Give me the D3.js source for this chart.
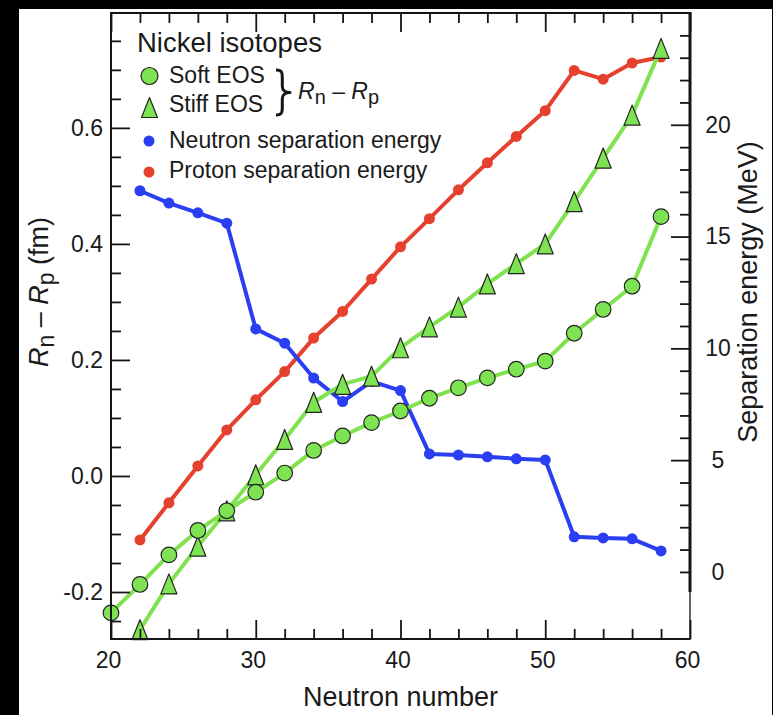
<!DOCTYPE html>
<html>
<head>
<meta charset="utf-8">
<script src="https://cdn.jsdelivr.net/npm/d3@7"></script>
<style>
  html, body { margin: 0; padding: 0; background: #000; }
  svg { display: block; }
  text { font-family: "Liberation Sans", Arial, Helvetica, sans-serif; fill: #1a1a1a; }
</style>
</head>
<body>
<svg id="chart" width="773" height="715"></svg>
<script>
// Neutron numbers of the nickel isotopes
const neutronNumberSoft = [20, 22, 24, 26, 28, 30, 32, 34, 36, 38, 40, 42, 44, 46, 48, 50, 52, 54, 56, 58];
const neutronNumber = [22, 24, 26, 28, 30, 32, 34, 36, 38, 40, 42, 44, 46, 48, 50, 52, 54, 56, 58];

// Neutron skin thickness R_n - R_p (fm)
const softEOS = [-0.236, -0.187, -0.136, -0.094, -0.060, -0.028, 0.005, 0.044, 0.069, 0.092,
                 0.112, 0.134, 0.152, 0.169, 0.184, 0.198, 0.246, 0.287, 0.327, 0.447];
const stiffEOS = [-0.265, -0.186, -0.121, -0.060, 0.002, 0.063, 0.127, 0.158, 0.172, 0.221,
                  0.257, 0.291, 0.331, 0.366, 0.400, 0.473, 0.548, 0.622, 0.737];

// Separation energies (MeV)
const neutronSep = [17.05, 16.5, 16.06, 15.6, 10.87, 10.23, 8.67, 7.62, 8.52, 8.11,
                    5.28, 5.23, 5.15, 5.06, 5.01, 1.57, 1.52, 1.48, 0.94];
const protonSep = [1.43, 3.09, 4.74, 6.35, 7.70, 8.96, 10.46, 11.65, 13.1, 14.54,
                   15.8, 17.09, 18.3, 19.48, 20.63, 22.43, 22.04, 22.76, 23.03];

// Tick values
const xTicksMajor = [20, 30, 40, 50, 60];
const xTicksMinor = [22, 24, 26, 28, 32, 34, 36, 38, 42, 44, 46, 48, 52, 54, 56, 58];
const leftTicksMajor = [-0.2, 0.0, 0.2, 0.4, 0.6];
const leftTicksMinor = [-0.25, -0.15, -0.1, -0.05, 0.05, 0.1, 0.15, 0.25, 0.3, 0.35, 0.45, 0.5, 0.55, 0.65, 0.7, 0.75];
const rightTickLabels = [0, 5, 10, 15, 20];
const rightTicksMajor = [5, 10, 15, 20];
const rightTicksMinor = [0, 1, 2, 3, 4, 6, 7, 8, 9, 11, 12, 13, 14, 16, 17, 18, 19, 21, 22, 23, 24];

const W = 773, H = 715;
const plot = { left: 111, right: 690, top: 13, bottom: 639 };

const GREEN_LINE = "#80e24f";
const GREEN_FILL = "#7ee352";
const BLUE = "#2a3ef2";
const RED = "#e6402e";
const INK = "#151515";

const svg = d3.select("#chart");
svg.append("rect").attr("width", W).attr("height", H).attr("fill", "#000");
svg.append("rect").attr("x", 19).attr("y", 9).attr("width", 753).attr("height", H - 9).attr("fill", "#fff");

const x = d3.scaleLinear().domain([20, 60]).range([plot.left, plot.right]);
const yR = d3.scaleLinear().domain([-0.281, 0.798]).range([plot.bottom, plot.top]);
const yS = d3.scaleLinear().domain([-3, 25]).range([plot.bottom, plot.top]);

const triPath = "M0,-10L8,10L-8,10Z";

// ---- separation energy series ----
function sepSeries(values, color) {
  const pts = neutronNumber.map((n, i) => [n, values[i]]);
  const g = svg.append("g");
  g.append("path")
    .attr("d", d3.line().x(d => x(d[0])).y(d => yS(d[1]))(pts))
    .attr("fill", "none").attr("stroke", color).attr("stroke-width", 4)
    .attr("stroke-linejoin", "round");
  g.selectAll("circle").data(pts).join("circle")
    .attr("cx", d => x(d[0])).attr("cy", d => yS(d[1])).attr("r", 5.5)
    .attr("fill", color);
}
sepSeries(protonSep, RED);
sepSeries(neutronSep, BLUE);

// ---- R_n - R_p series ----
const stiffPts = neutronNumber.map((n, i) => [n, stiffEOS[i]]);
const softPts = neutronNumberSoft.map((n, i) => [n, softEOS[i]]);
const skinLine = d3.line().x(d => x(d[0])).y(d => yR(d[1]));

const gStiff = svg.append("g");
gStiff.append("path").attr("d", skinLine(stiffPts))
  .attr("fill", "none").attr("stroke", GREEN_LINE).attr("stroke-width", 4).attr("stroke-linejoin", "round");
gStiff.selectAll("path.tri").data(stiffPts).join("path").attr("class", "tri")
  .attr("d", triPath)
  .attr("transform", d => `translate(${x(d[0])},${yR(d[1])})`)
  .attr("fill", GREEN_FILL).attr("stroke", "#222").attr("stroke-width", 1.2).attr("stroke-linejoin", "round");

const gSoft = svg.append("g");
gSoft.append("path").attr("d", skinLine(softPts))
  .attr("fill", "none").attr("stroke", GREEN_LINE).attr("stroke-width", 4).attr("stroke-linejoin", "round");
gSoft.selectAll("circle").data(softPts).join("circle")
  .attr("cx", d => x(d[0])).attr("cy", d => yR(d[1])).attr("r", 7.8)
  .attr("fill", GREEN_FILL).attr("stroke", "#222").attr("stroke-width", 1.2);

// ---- axes ----
function styleAxis(g) {
  g.select(".domain").remove();
  g.selectAll(".tick line").attr("stroke", INK).attr("stroke-width", 1.8);
  g.selectAll(".tick text").attr("fill", INK).style("font-size", "23px")
    .style("font-family", '"Liberation Sans", Arial, Helvetica, sans-serif');
}
function addAxis(transform, axis) {
  const g = svg.append("g").attr("transform", transform).call(axis);
  styleAxis(g);
  return g;
}
const fmt1 = d => d.toFixed(1);

// bottom
addAxis(`translate(0,${plot.bottom})`, d3.axisBottom(x).tickValues(xTicksMinor).tickSize(-10).tickFormat(""));
addAxis(`translate(0,${plot.bottom})`, d3.axisBottom(x).tickValues(xTicksMajor).tickSize(-19).tickPadding(12.5).tickFormat(d3.format("d")))
  .selectAll(".tick text").attr("dx", -3);
// top
addAxis(`translate(0,${plot.top})`, d3.axisTop(x).tickValues(xTicksMinor).tickSize(-10).tickFormat(""));
addAxis(`translate(0,${plot.top})`, d3.axisTop(x).tickValues(xTicksMajor).tickSize(-19).tickFormat(""));
// left
addAxis(`translate(${plot.left},0)`, d3.axisLeft(yR).tickValues(leftTicksMinor).tickSize(-10).tickFormat(""));
addAxis(`translate(${plot.left},0)`, d3.axisLeft(yR).tickValues(leftTicksMajor).tickSize(-19).tickPadding(8).tickFormat(fmt1));
// right
addAxis(`translate(${plot.right},0)`, d3.axisRight(yS).tickValues(rightTicksMinor).tickSize(-10).tickFormat(""));
addAxis(`translate(${plot.right},0)`, d3.axisRight(yS).tickValues(rightTicksMajor).tickSize(-19).tickFormat(""));
addAxis(`translate(${plot.right},0)`, d3.axisRight(yS).tickValues(rightTickLabels).tickSize(0).tickFormat(d3.format("d")))
  .selectAll(".tick text").attr("text-anchor", "middle").attr("x", 28);

// frame
const frame = svg.append("g").attr("stroke", INK).attr("fill", "none");
frame.append("line").attr("x1", plot.left).attr("x2", plot.right).attr("y1", plot.top).attr("y2", plot.top).attr("stroke-width", 2);
frame.append("line").attr("x1", plot.left).attr("x2", plot.right).attr("y1", plot.bottom).attr("y2", plot.bottom).attr("stroke-width", 2);
frame.append("line").attr("x1", plot.left).attr("x2", plot.left).attr("y1", plot.top - 1).attr("y2", plot.bottom + 1).attr("stroke-width", 2);
frame.append("line").attr("x1", plot.right).attr("x2", plot.right).attr("y1", plot.top - 1).attr("y2", yS(-0.9)).attr("stroke-width", 3);
frame.append("line").attr("x1", plot.right).attr("x2", plot.right).attr("y1", yS(-0.9)).attr("y2", plot.bottom + 1).attr("stroke-width", 1.3);

// ---- axis titles ----
svg.append("text").attr("x", (plot.left + plot.right) / 2).attr("y", 706)
  .attr("text-anchor", "middle").style("font-size", "27px").text("Neutron number");

svg.append("text").attr("transform", "translate(757,292) rotate(-90)")
  .attr("text-anchor", "middle").style("font-size", "27px").text("Separation energy (MeV)");

function skinLabel(sel, sub, shift) {
  sel.append("tspan").style("font-style", "italic").text("R");
  sel.append("tspan").style("font-size", sub + "px").attr("dy", shift).text("n");
  sel.append("tspan").attr("dy", -shift).text(" \u2013 ");
  sel.append("tspan").style("font-style", "italic").text("R");
  sel.append("tspan").style("font-size", sub + "px").attr("dy", shift).text("p");
}
const leftTitle = svg.append("text").attr("transform", "translate(48,292) rotate(-90)")
  .attr("text-anchor", "middle").style("font-size", "27px");
skinLabel(leftTitle, 23, 6);
leftTitle.append("tspan").attr("dy", -6).text(" (fm)");

// ---- legend ----
const lg = svg.append("g");
lg.append("text").attr("x", 137).attr("y", 52).style("font-size", "27.5px").text("Nickel isotopes");

lg.append("circle").attr("cx", 149.5).attr("cy", 76).attr("r", 8.5)
  .attr("fill", GREEN_FILL).attr("stroke", "#222").attr("stroke-width", 1.2);
lg.append("text").attr("x", 169).attr("y", 82.5).style("font-size", "23px").text("Soft EOS");

lg.append("path").attr("d", triPath).attr("transform", "translate(149.5,107.5)")
  .attr("fill", GREEN_FILL).attr("stroke", "#222").attr("stroke-width", 1.2).attr("stroke-linejoin", "round");
lg.append("text").attr("x", 169).attr("y", 111.7).style("font-size", "23px").text("Stiff EOS");

// curly brace grouping the two EOS entries
(function () {
  const x0 = 276, y0 = 70, y1 = 115, w = 14;
  const xm = x0 + w * 0.45, ym = (y0 + y1) / 2;
  const p = d3.path();
  p.moveTo(x0, y0);
  p.bezierCurveTo(xm, y0, xm, y0 + 3, xm, y0 + 8);
  p.lineTo(xm, ym - 6);
  p.bezierCurveTo(xm, ym - 2, x0 + w * 0.7, ym, x0 + w, ym);
  p.bezierCurveTo(x0 + w * 0.7, ym, xm, ym + 2, xm, ym + 6);
  p.lineTo(xm, y1 - 8);
  p.bezierCurveTo(xm, y1 - 3, xm, y1, x0, y1);
  lg.append("path").attr("d", p.toString()).attr("fill", "none")
    .attr("stroke", INK).attr("stroke-width", 3).attr("stroke-linejoin", "round");
})();
const braceLabel = lg.append("text").attr("x", 298).attr("y", 98.5).style("font-size", "23px");
skinLabel(braceLabel, 20, 5);

lg.append("circle").attr("cx", 149).attr("cy", 141).attr("r", 5.5).attr("fill", BLUE);
lg.append("text").attr("x", 169).attr("y", 148.3).style("font-size", "23px").text("Neutron separation energy");
lg.append("circle").attr("cx", 149).attr("cy", 172).attr("r", 5.5).attr("fill", RED);
lg.append("text").attr("x", 169).attr("y", 178.3).style("font-size", "23px").text("Proton separation energy");
</script>
</body>
</html>
